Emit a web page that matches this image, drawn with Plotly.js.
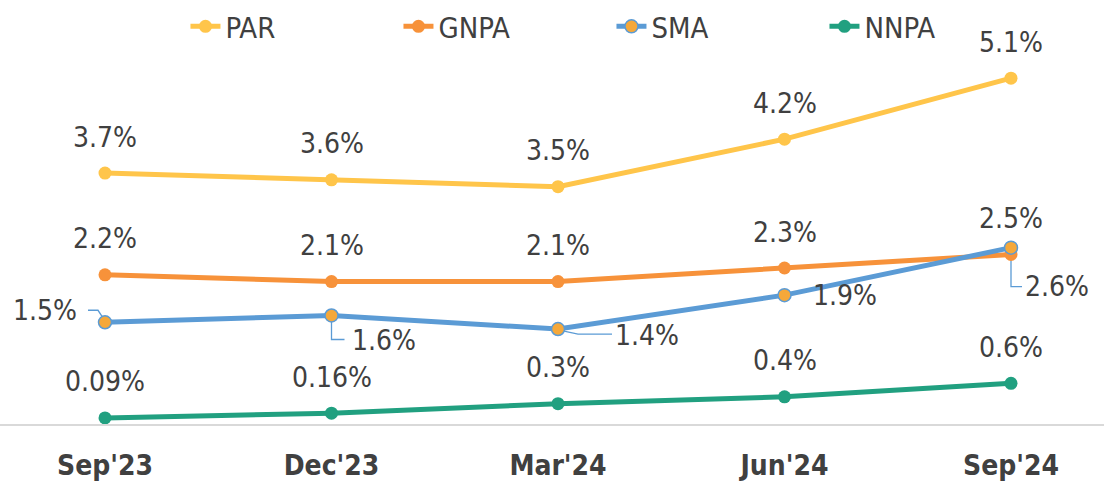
<!DOCTYPE html>
<html><head><meta charset="utf-8">
<script src="https://cdn.plot.ly/plotly-3.0.1.min.js"></script>
<style>html,body{margin:0;padding:0;background:#fff}#chart{width:1104px;height:485px}</style>
</head><body><div id="chart"></div>
<script>
// ---- data ----
const categories = ["Sep'23", "Dec'23", "Mar'24", "Jun'24", "Sep'24"];
const parValues  = [3.7, 3.6, 3.5, 4.2, 5.1];
const gnpaValues = [2.2, 2.1, 2.1, 2.3, 2.5];
const smaValues  = [1.5, 1.6, 1.4, 1.9, 2.6];
const nnpaValues = [0.09, 0.16, 0.3, 0.4, 0.6];

// ---- styles ----
const xIdx = categories.map((_, i) => i);
const FONT = "DejaVu Sans Condensed, Liberation Sans Narrow, sans-serif";
const TXT = '#404040';
const series = [
  {name: 'PAR',  vals: parValues,  color: '#FFC54A', mfill: '#FFC54A', mline: '#FFC54A'},
  {name: 'GNPA', vals: gnpaValues, color: '#F7923A', mfill: '#F7923A', mline: '#F7923A'},
  {name: 'SMA',  vals: smaValues,  color: '#5B9BD5', mfill: '#F5A83A', mline: '#5B9BD5'},
  {name: 'NNPA', vals: nnpaValues, color: '#21A080', mfill: '#21A080', mline: '#21A080'}
];
const traces = series.map(s => ({
  type: 'scatter', mode: 'lines+markers', name: s.name,
  x: xIdx, y: s.vals,
  line: {color: s.color, width: 5},
  marker: {size: 13, color: s.mfill, line: {color: s.mline, width: s.name === 'SMA' ? 1.5 : 0}},
  cliponaxis: false
}));

const annotations = [];
series.forEach(s => {
  if (s.name === 'SMA') return;
  s.vals.forEach((v, i) => annotations.push({
    x: xIdx[i], y: v, text: v + '%', showarrow: false, yshift: 36,
    font: {family: FONT, size: 28, color: TXT}
  }));
});
// SMA label offsets (pixels) and leader paths (pixel offsets, y up)
const smaShift = [[-60, 12], [52, -25], [89, -6], [60, 0], [46, -39]];
const smaLeader = ['M-17,12 L-7,12 L-3,6', 'M0,-6 L0,-24 L13,-24', 'M6,-2 L20,-5 L54,-5', '', 'M0,-6 L0,-39 L11,-39'];
smaValues.forEach((v, i) => annotations.push({
  x: xIdx[i], y: v, text: v + '%', showarrow: false,
  xshift: smaShift[i][0], yshift: smaShift[i][1],
  font: {family: FONT, size: 28, color: TXT}
}));
const shapes = [];
smaValues.forEach((v, i) => {
  if (!smaLeader[i]) return;
  shapes.push({type: 'path', xref: 'x', yref: 'y', xsizemode: 'pixel', ysizemode: 'pixel',
    xanchor: xIdx[i], yanchor: v, path: smaLeader[i], line: {color: '#5B9BD5', width: 1.3}, layer: 'below'});
});

const layout = {
  width: 1104, height: 485,
  margin: {l: 0, r: 0, t: 51, b: 61},
  paper_bgcolor: '#fff', plot_bgcolor: '#fff',
  showlegend: true,
  legend: {orientation: 'h', x: 0.168, xanchor: 'left', y: 1.134, yanchor: 'top',
    font: {family: FONT, size: 29, color: TXT}, entrywidth: 168, entrywidthmode: 'pixels',
    itemclick: false},
  xaxis: {range: [-0.4636, 4.4106], tickvals: xIdx, ticktext: categories,
    showgrid: false, zeroline: false, showline: true, linecolor: '#D9D9D9', linewidth: 2,
    ticks: '', ticklabelstandoff: 15,
    tickfont: {family: FONT, size: 28, color: TXT, weight: 'bold'}},
  yaxis: {range: [0, 5.5], showgrid: false, zeroline: false, showticklabels: false, showline: false},
  annotations: annotations,
  shapes: shapes
};
Plotly.newPlot('chart', traces, layout, {displayModeBar: false, staticPlot: true});
</script></body></html>
